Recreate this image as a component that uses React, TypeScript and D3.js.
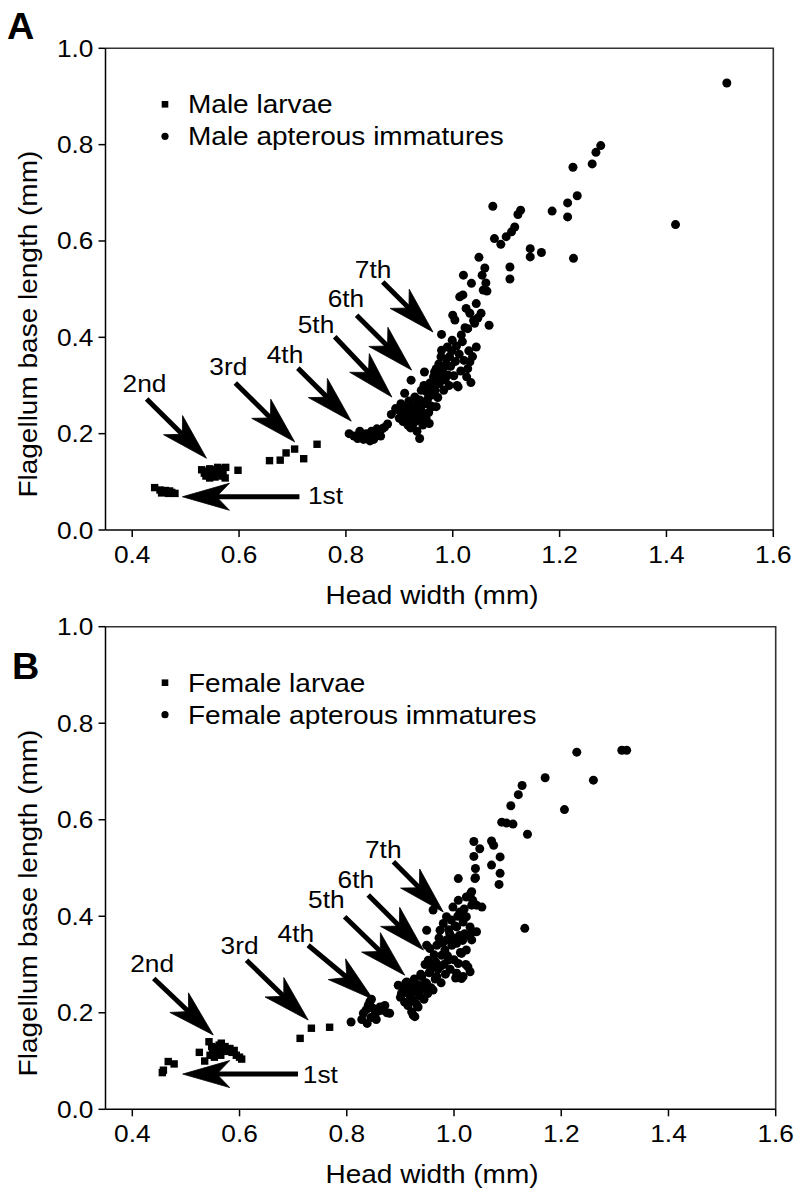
import React from "react";
import * as d3 from "d3";

// ---------- DATA (head width mm, flagellum base length mm) ----------
const maleLarvae: [number, number][] = [
  // 1st instar
  [0.442, 0.088], [0.452, 0.083], [0.458, 0.080], [0.462, 0.082], [0.466, 0.079],
  [0.470, 0.081], [0.474, 0.078], [0.480, 0.076], [0.455, 0.077], [0.468, 0.076],
  // 2nd instar
  [0.530, 0.125], [0.535, 0.118], [0.540, 0.122], [0.538, 0.112], [0.545, 0.127],
  [0.548, 0.115], [0.552, 0.120], [0.555, 0.110], [0.558, 0.125], [0.562, 0.118],
  [0.565, 0.128], [0.568, 0.112], [0.570, 0.122], [0.574, 0.108], [0.575, 0.130],
  [0.545, 0.108], [0.560, 0.130], [0.598, 0.124],
  // 3rd instar
  [0.657, 0.144], [0.677, 0.145], [0.688, 0.160], [0.704, 0.168], [0.721, 0.148], [0.746, 0.178],
];

const maleApterous: [number, number][] = [
  // 4th instar
  [0.806, 0.200], [0.815, 0.195], [0.822, 0.190], [0.828, 0.197], [0.833, 0.188], [0.838, 0.200],
  [0.842, 0.192], [0.848, 0.205], [0.852, 0.188], [0.855, 0.197], [0.860, 0.203], [0.865, 0.195],
  [0.868, 0.210], [0.872, 0.213], [0.878, 0.220], [0.845, 0.185], [0.826, 0.205], [0.858, 0.210],
  // 5th-7th instars
  [0.885, 0.240], [0.893, 0.252], [0.898, 0.249], [0.900, 0.232], [0.903, 0.262], [0.906, 0.240],
  [0.907, 0.225], [0.910, 0.284], [0.911, 0.255], [0.913, 0.246], [0.914, 0.232], [0.916, 0.218],
  [0.918, 0.268], [0.919, 0.240], [0.920, 0.252], [0.921, 0.212], [0.922, 0.311], [0.923, 0.230],
  [0.925, 0.242], [0.926, 0.258], [0.927, 0.222], [0.929, 0.276], [0.930, 0.248], [0.931, 0.236],
  [0.933, 0.205], [0.934, 0.262], [0.936, 0.228], [0.938, 0.190], [0.938, 0.270], [0.940, 0.250],
  [0.941, 0.290], [0.943, 0.240], [0.944, 0.218], [0.946, 0.300], [0.947, 0.328], [0.948, 0.262],
  [0.950, 0.232], [0.951, 0.287], [0.953, 0.272], [0.955, 0.244], [0.956, 0.221], [0.957, 0.305],
  [0.958, 0.258], [0.960, 0.297], [0.961, 0.280], [0.962, 0.256], [0.964, 0.318], [0.966, 0.328],
  [0.967, 0.290], [0.969, 0.256], [0.969, 0.335], [0.971, 0.308], [0.972, 0.275], [0.974, 0.345],
  [0.975, 0.304], [0.976, 0.318], [0.978, 0.360], [0.979, 0.406], [0.979, 0.373], [0.981, 0.330],
  [0.983, 0.290], [0.985, 0.340], [0.986, 0.312], [0.988, 0.355], [0.990, 0.380], [0.991, 0.322],
  [0.993, 0.300], [0.994, 0.360], [0.996, 0.340], [0.998, 0.372], [0.999, 0.394], [1.000, 0.446],
  [1.002, 0.320], [1.004, 0.436], [1.005, 0.350], [1.007, 0.382], [1.008, 0.300], [1.010, 0.297],
  [1.012, 0.365], [1.013, 0.484], [1.015, 0.330], [1.016, 0.405], [1.018, 0.391], [1.019, 0.488],
  [1.020, 0.529], [1.021, 0.352], [1.023, 0.420], [1.025, 0.460], [1.026, 0.318], [1.028, 0.335],
  [1.028, 0.418], [1.030, 0.372], [1.032, 0.349], [1.032, 0.450], [1.034, 0.306], [1.035, 0.512],
  [1.037, 0.360], [1.039, 0.435], [1.041, 0.429], [1.044, 0.380], [1.044, 0.470], [1.047, 0.440],
  [1.049, 0.566], [1.053, 0.450], [1.055, 0.529], [1.057, 0.498], [1.060, 0.544], [1.062, 0.513],
  [1.064, 0.496], [1.068, 0.425],
  // upper range
  [1.075, 0.672], [1.078, 0.605], [1.090, 0.593], [1.100, 0.609], [1.107, 0.546], [1.107, 0.521],
  [1.110, 0.619], [1.116, 0.629], [1.122, 0.655], [1.127, 0.664], [1.145, 0.584], [1.145, 0.567],
  [1.166, 0.576], [1.186, 0.662], [1.215, 0.679], [1.215, 0.650], [1.225, 0.753], [1.226, 0.564],
  [1.233, 0.694], [1.261, 0.760], [1.268, 0.784], [1.277, 0.798], [1.417, 0.634], [1.513, 0.928],
];

const femaleLarvae: [number, number][] = [
  // 1st instar
  [0.456, 0.076], [0.458, 0.081], [0.467, 0.099], [0.478, 0.094],
  // 2nd instar
  [0.525, 0.118], [0.535, 0.100], [0.543, 0.140], [0.545, 0.112], [0.550, 0.122], [0.553, 0.108],
  [0.557, 0.128], [0.560, 0.118], [0.562, 0.133], [0.566, 0.137], [0.570, 0.125], [0.573, 0.130],
  [0.578, 0.120], [0.582, 0.126], [0.586, 0.118], [0.590, 0.122], [0.594, 0.112], [0.600, 0.108],
  [0.604, 0.104], [0.548, 0.130], [0.565, 0.112],
  // 3rd instar
  [0.713, 0.147], [0.734, 0.168], [0.768, 0.170],
];

const femaleApterous: [number, number][] = [
  // 4th instar
  [0.808, 0.181], [0.828, 0.186], [0.831, 0.199], [0.836, 0.206], [0.840, 0.215], [0.843, 0.223],
  [0.846, 0.228], [0.848, 0.210], [0.852, 0.196], [0.855, 0.186], [0.858, 0.203], [0.862, 0.212],
  [0.866, 0.205], [0.871, 0.215], [0.875, 0.200], [0.880, 0.199], [0.845, 0.190], [0.838, 0.178],
  // 5th-7th instars
  [0.896, 0.257], [0.900, 0.232], [0.902, 0.240], [0.905, 0.250], [0.908, 0.222], [0.910, 0.262],
  [0.912, 0.264], [0.914, 0.215], [0.916, 0.238], [0.918, 0.247], [0.920, 0.230], [0.921, 0.202],
  [0.922, 0.255], [0.924, 0.226], [0.924, 0.195], [0.926, 0.270], [0.927, 0.192], [0.929, 0.244],
  [0.930, 0.218], [0.933, 0.212], [0.934, 0.258], [0.936, 0.235], [0.938, 0.280], [0.940, 0.275],
  [0.942, 0.250], [0.944, 0.228], [0.946, 0.300], [0.947, 0.262], [0.949, 0.261], [0.949, 0.340],
  [0.949, 0.371], [0.951, 0.240], [0.952, 0.309], [0.954, 0.283], [0.955, 0.285], [0.955, 0.333],
  [0.957, 0.252], [0.959, 0.296], [0.961, 0.247], [0.961, 0.413], [0.963, 0.320], [0.965, 0.270],
  [0.966, 0.305], [0.968, 0.275], [0.968, 0.340], [0.970, 0.290], [0.972, 0.355], [0.974, 0.295],
  [0.974, 0.371], [0.976, 0.262], [0.977, 0.319], [0.979, 0.345], [0.980, 0.385], [0.981, 0.300],
  [0.983, 0.330], [0.984, 0.280], [0.986, 0.351], [0.986, 0.399], [0.988, 0.318], [0.989, 0.309],
  [0.990, 0.372], [0.992, 0.364], [0.993, 0.290], [0.995, 0.392], [0.996, 0.340], [0.998, 0.419],
  [0.999, 0.355], [1.000, 0.310], [1.002, 0.380], [1.003, 0.272], [1.005, 0.378], [1.005, 0.344],
  [1.005, 0.282], [1.007, 0.400], [1.008, 0.433], [1.008, 0.302], [1.008, 0.478], [1.010, 0.360],
  [1.011, 0.409], [1.012, 0.325], [1.014, 0.323], [1.014, 0.271], [1.016, 0.350], [1.017, 0.388],
  [1.017, 0.275], [1.019, 0.415], [1.020, 0.364], [1.022, 0.300], [1.023, 0.399], [1.023, 0.330],
  [1.023, 0.440], [1.026, 0.295], [1.028, 0.360], [1.030, 0.378], [1.030, 0.285], [1.031, 0.447],
  [1.033, 0.351], [1.033, 0.423], [1.033, 0.451], [1.035, 0.368], [1.035, 0.433], [1.037, 0.555],
  [1.037, 0.524], [1.039, 0.478], [1.040, 0.499], [1.040, 0.480], [1.042, 0.423], [1.042, 0.368],
  [1.048, 0.540], [1.052, 0.419], [1.070, 0.556], [1.070, 0.506], [1.074, 0.547], [1.084, 0.466],
  [1.086, 0.523], [1.086, 0.489], [1.089, 0.595], [1.098, 0.593], [1.106, 0.629], [1.110, 0.591],
  [1.120, 0.652], [1.127, 0.671], [1.132, 0.375], [1.137, 0.570], [1.170, 0.687], [1.206, 0.621],
  [1.229, 0.740], [1.260, 0.682], [1.313, 0.744], [1.322, 0.744],
];

const xTicks = [0.4, 0.6, 0.8, 1.0, 1.2, 1.4, 1.6];
const yTicks = [0.0, 0.2, 0.4, 0.6, 0.8, 1.0];
const instarLabels = ["1st", "2nd", "3rd", "4th", "5th", "6th", "7th"];

// annotation arrows: [tailX, tailY, tipX, tipY, labelX, labelY] in data units
const maleArrows: number[][] = [
  [0.713, 0.069, 0.494, 0.069, 0.729, 0.054],
  [0.427, 0.272, 0.539, 0.149, 0.423, 0.286],
  [0.593, 0.305, 0.704, 0.183, 0.580, 0.322],
  [0.710, 0.336, 0.810, 0.226, 0.686, 0.346],
  [0.779, 0.401, 0.886, 0.276, 0.744, 0.409],
  [0.820, 0.446, 0.923, 0.332, 0.800, 0.463],
  [0.869, 0.515, 0.963, 0.411, 0.851, 0.523],
];
const femaleArrows: number[][] = [
  [0.709, 0.073, 0.494, 0.073, 0.718, 0.054],
  [0.440, 0.271, 0.551, 0.154, 0.437, 0.285],
  [0.613, 0.309, 0.728, 0.185, 0.600, 0.322],
  [0.728, 0.340, 0.849, 0.228, 0.705, 0.347],
  [0.796, 0.399, 0.908, 0.278, 0.762, 0.417],
  [0.840, 0.444, 0.943, 0.330, 0.817, 0.458],
  [0.887, 0.513, 0.980, 0.409, 0.868, 0.520],
];

const FONT = "'Liberation Sans', Arial, Helvetica, sans-serif";
const SX = 1.12;

function T(props: {
  x: number; y: number; fs: number; anchor?: string; rot?: number; bold?: boolean; sx?: number; children: any;
}) {
  const { x, y, fs, anchor = "start", rot = 0, bold = false, sx = SX, children } = props;
  return (
    <text
      transform={`translate(${x},${y}) rotate(${rot}) scale(${sx},1)`}
      fontSize={fs}
      fontFamily={FONT}
      fontWeight={bold ? "bold" : "normal"}
      textAnchor={anchor}
      fill="#000"
    >
      {children}
    </text>
  );
}

function Arrow({ x1, y1, x2, y2 }: { x1: number; y1: number; x2: number; y2: number }) {
  const dx = x2 - x1, dy = y2 - y1;
  const len = Math.hypot(dx, dy);
  const ux = dx / len, uy = dy / len;
  const nx = -uy, ny = ux;
  const L = 47, W = 13.5, N = 13;
  const bx = x2 - L * ux, by = y2 - L * uy;
  const mx = x2 - (L - N) * ux, my = y2 - (L - N) * uy;
  const pts = [
    [x2, y2],
    [bx + W * nx, by + W * ny],
    [mx, my],
    [bx - W * nx, by - W * ny],
  ];
  return (
    <g>
      <line x1={x1} y1={y1} x2={mx + 2 * ux} y2={my + 2 * uy} stroke="#000" strokeWidth={5} />
      <polygon points={pts.map((p) => p.join(",")).join(" ")} fill="#000" stroke="#000" strokeWidth={0.8} strokeLinejoin="miter" />
    </g>
  );
}

function Panel(props: {
  top: number; bottom: number; left: number; right: number;
  letter: string; letterX: number; letterY: number;
  larvae: [number, number][]; apterous: [number, number][];
  legend: [string, string]; arrows: number[][];
}) {
  const { top, bottom, left, right, letter, letterX, letterY, larvae, apterous, legend, arrows } = props;
  const x = d3.scaleLinear().domain([0.35, 1.6]).range([left, right]);
  const y = d3.scaleLinear().domain([0, 1]).range([bottom, top]);
  const fmt = d3.format(".1f");
  const sq = 7.4;
  return (
    <g>
      <T x={letterX} y={letterY} fs={36} bold sx={1.05}>{letter}</T>
      {/* frame */}
      <path d={`M${left},${top} H${right} V${bottom}`} fill="none" stroke="#333" strokeWidth={1.6} />
      <line x1={left} y1={top} x2={left} y2={bottom} stroke="#000" strokeWidth={1.5} />
      <line x1={left} y1={bottom} x2={right} y2={bottom} stroke="#000" strokeWidth={1.5} />
      {xTicks.map((t) => (
        <g key={"x" + t}>
          <line x1={x(t)} x2={x(t)} y1={bottom} y2={bottom + 7} stroke="#000" strokeWidth={1.5} />
          <T x={x(t)} y={bottom + 33} fs={23.5} anchor="middle">{fmt(t)}</T>
        </g>
      ))}
      {yTicks.map((t) => (
        <g key={"y" + t}>
          <line x1={left - 7} x2={left} y1={y(t)} y2={y(t)} stroke="#000" strokeWidth={1.5} />
          <T x={left - 12} y={y(t) + 8.5} fs={23.5} anchor="end">{fmt(t)}</T>
        </g>
      ))}
      <T x={432} y={bottom + 73.5} fs={25} anchor="middle">Head width (mm)</T>
      <T x={37} y={(top + bottom) / 2 + 35} fs={25} anchor="middle" rot={-90}>Flagellum base length (mm)</T>
      {/* legend */}
      <rect x={165 - 3.3} y={top + 65 - 12.3} width={6.6} height={6.6} fill="#000" />
      <T x={188} y={top + 65} fs={25}>{legend[0]}</T>
      <circle cx={165} cy={top + 97 - 9} r={3.6} fill="#000" />
      <T x={188} y={top + 97} fs={25}>{legend[1]}</T>
      {/* data */}
      {larvae.map((d, i) => (
        <rect key={"l" + i} x={x(d[0]) - sq / 2} y={y(d[1]) - sq / 2} width={sq} height={sq} fill="#000" />
      ))}
      {apterous.map((d, i) => (
        <circle key={"a" + i} cx={x(d[0])} cy={y(d[1])} r={4.5} fill="#000" />
      ))}
      {/* annotations */}
      {arrows.map((a, i) => (
        <g key={"ar" + i}>
          <Arrow x1={x(a[0])} y1={y(a[1])} x2={x(a[2])} y2={y(a[3])} />
          <T x={x(a[4])} y={y(a[5])} fs={23.5} anchor={i === 0 ? "start" : "middle"}>{instarLabels[i]}</T>
        </g>
      ))}
    </g>
  );
}

export default function App() {
  return (
    <svg
      width={800}
      height={1197}
      style={{ position: "absolute", left: 0, top: 0, background: "#fff" }}
    >
      <rect width={800} height={1197} fill="#fff" />
      <Panel
        top={48.3} bottom={530} left={105.5} right={773.3}
        letter="A" letterX={7} letterY={39}
        larvae={maleLarvae} apterous={maleApterous}
        legend={["Male larvae", "Male apterous immatures"]}
        arrows={maleArrows}
      />
      <Panel
        top={626.7} bottom={1109.3} left={105.5} right={775.7}
        letter="B" letterX={12} letterY={679}
        larvae={femaleLarvae} apterous={femaleApterous}
        legend={["Female larvae", "Female apterous immatures"]}
        arrows={femaleArrows}
      />
    </svg>
  );
}
